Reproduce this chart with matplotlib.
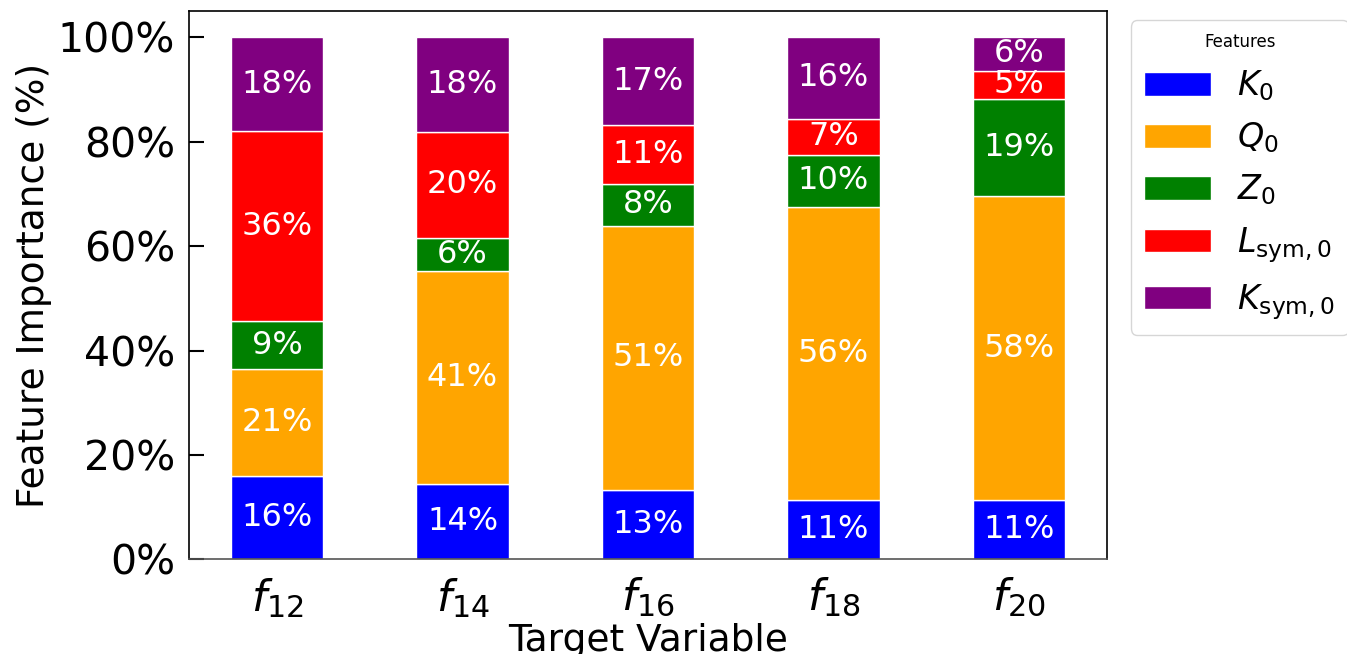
import numpy as np
import matplotlib
matplotlib.use('Agg')
import matplotlib.pyplot as plt
from matplotlib.ticker import PercentFormatter

targets = ['$f_{12}$', '$f_{14}$', '$f_{16}$', '$f_{18}$', '$f_{20}$']
features = ['$K_0$', '$Q_0$', '$Z_0$', '$L_{\\mathrm{sym},0}$', '$K_{\\mathrm{sym},0}$']
colors = ['blue', 'orange', 'green', 'red', 'purple']

# importance (%) per target, one list per feature
k0 = [15.9, 14.4, 13.3, 11.4, 11.3]
q0 = [20.6, 40.9, 50.6, 56.1, 58.3]
z0 = [9.1, 6.2, 8.0, 10.0, 18.6]
lsym = [36.4, 20.4, 11.2, 6.9, 5.4]
ksym = [18.0, 18.1, 16.9, 15.6, 6.4]

values = [k0, q0, z0, lsym, ksym]

fig = plt.figure(figsize=(13.47, 6.54), dpi=100)
ax = fig.add_axes([0.1403, 0.1445, 0.6815, 0.8387])

x = np.arange(len(targets))
bottom = np.zeros(len(targets))
for name, vals, c in zip(features, values, colors):
    vals = np.array(vals)
    bars = ax.bar(x, vals, 0.5, bottom=bottom, color=c, edgecolor='white',
                  linewidth=1, label=name)
    for xi, b, v in zip(x, bottom, vals):
        ax.text(xi, b + v / 2, '%.0f%%' % v, ha='center', va='center',
                color='white', fontsize=23)
    bottom += vals

ax.set_xticks(x)
ax.set_xticklabels(targets)
ax.yaxis.set_major_formatter(PercentFormatter(decimals=0))
ax.tick_params(axis='y', direction='in', length=11, width=1.5, labelsize=29.5, pad=10)
ax.tick_params(axis='x', length=0, labelsize=31, pad=12)
ax.set_ylabel('Feature Importance (%)', fontsize=27, labelpad=4)
ax.set_xlabel('Target Variable', fontsize=27, labelpad=2)
for s in ax.spines.values():
    s.set_linewidth(1.2)
ax.spines['bottom'].set_color('#555555')

ax.legend(title='Features', fontsize=24, title_fontsize=12, loc='upper left',
          bbox_to_anchor=(1.026, 0.9836), borderaxespad=0, labelspacing=0.52)

fig.savefig('out.png', dpi=100)
